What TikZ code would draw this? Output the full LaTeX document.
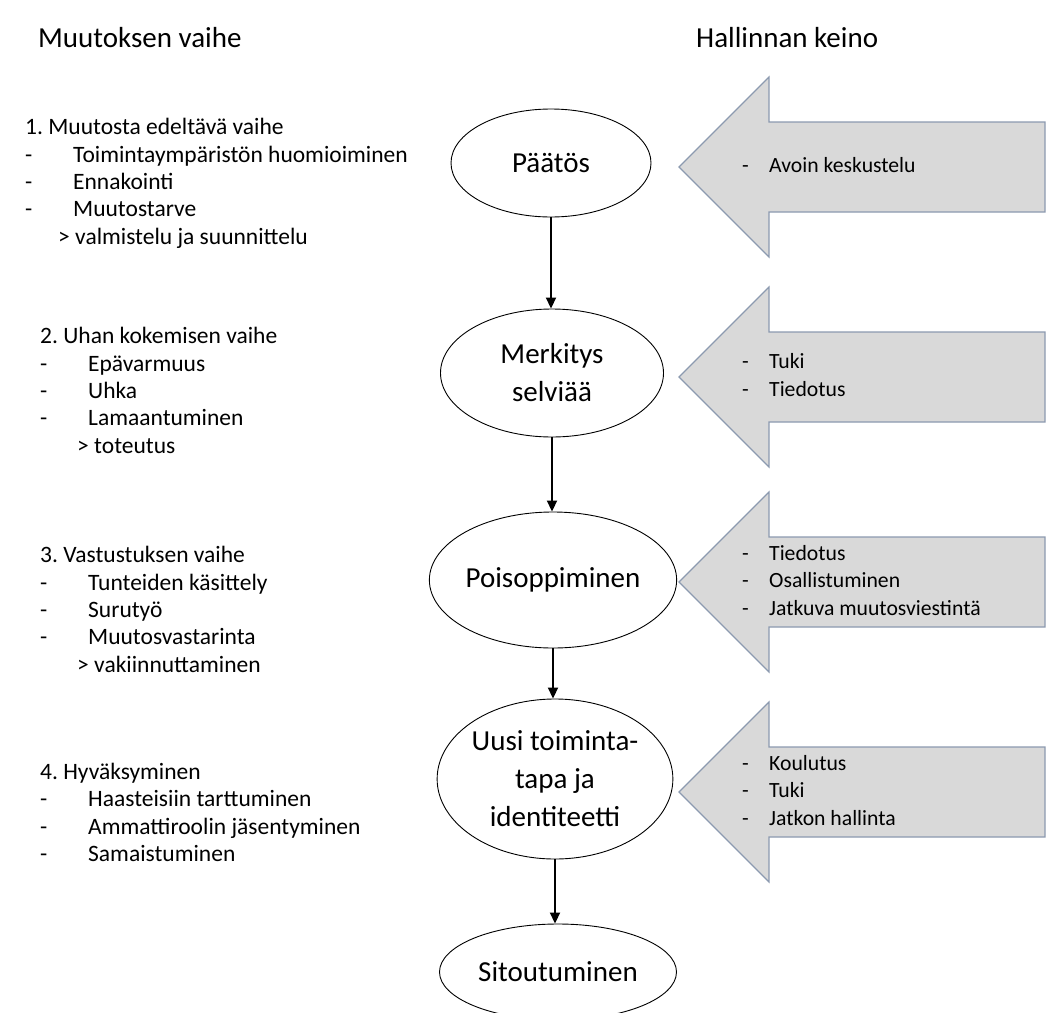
\documentclass[tikz,border=0pt]{standalone}
\usepackage{fontspec}
\setmainfont{Carlito}
\usetikzlibrary{shapes.geometric,arrows.meta}
\definecolor{arrfill}{HTML}{D9D9D9}
\definecolor{arredge}{HTML}{8C9AB0}
\newcommand\itm[1]{\strut\makebox[48pt][l]{-}#1}
\newcommand\aitm[1]{\strut\makebox[27pt][l]{-}#1}
\frenchspacing
\begin{document}
\begin{tikzpicture}[x=1pt,y=-1pt,
  header/.style={anchor=west,inner sep=0pt,font=\fontsize{29}{34}\selectfont},
  phase/.style={anchor=west,inner sep=0pt,align=left,font=\fontsize{23.5}{27.4}\selectfont},
  means/.style={anchor=west,inner sep=0pt,align=left,font=\fontsize{21.7}{27.5}\selectfont},
  stage/.style={ellipse,draw=black,line width=0.9pt,inner sep=0pt,align=center,font=\fontsize{29}{38}\selectfont},
  flow/.style={line width=1.8pt,-{Triangle[width=10pt,length=11pt]}},
  garrow/.style={fill=arrfill,draw=arredge,line width=1.2pt,line join=miter}]
\useasboundingbox[fill=white] (0,0) rectangle (1060,1012);

% headers
\node[header] (h1) at (38,38) {Muutoksen vaihe};
\node[header] (h2) at (696,38) {Hallinnan keino};

% left phase descriptions
\node[phase] (b1) at (25,184) {\strut 1. Muutosta edeltävä vaihe\\ \itm{Toimintaympäristön huomioiminen}\\ \itm{Ennakointi}\\ \itm{Muutostarve}\\ \strut\hspace{33pt}> valmistelu ja suunnittelu};
\node[phase] (b2) at (40,393) {\strut 2. Uhan kokemisen vaihe\\ \itm{Epävarmuus}\\ \itm{Uhka}\\ \itm{Lamaantuminen}\\ \strut\hspace{37pt}> toteutus};
\node[phase] (b3) at (40,612) {\strut 3. Vastustuksen vaihe\\ \itm{Tunteiden käsittely}\\ \itm{Surutyö}\\ \itm{Muutosvastarinta}\\ \strut\hspace{37pt}> vakiinnuttaminen};
\node[phase] (b4) at (40,815) {\strut 4. Hyväksyminen\\ \itm{Haasteisiin tarttuminen}\\ \itm{Ammattiroolin jäsentyminen}\\ \itm{Samaistuminen}};

% gray block arrows
\foreach \yc in {167,377,582,792}{
  \draw[garrow] (679,\yc) -- (769,\yc-90) -- (769,\yc-45) -- (1045,\yc-45)
     -- (1045,\yc+45) -- (769,\yc+45) -- (769,\yc+90) -- cycle;
}
\node[means] (m1) at (742,167) {\aitm{Avoin keskustelu}};
\node[means] (m2) at (742,377) {\aitm{Tuki}\\ \aitm{Tiedotus}};
\node[means] (m3) at (742,582) {\aitm{Tiedotus}\\ \aitm{Osallistuminen}\\ \aitm{Jatkuva muutosviestintä}};
\node[means] (m4) at (742,792) {\aitm{Koulutus}\\ \aitm{Tuki}\\ \aitm{Jatkon hallinta}};

% stages
\node[stage,minimum width=200pt,minimum height=108pt] (s1) at (551,163) {Päätös};
\node[stage,minimum width=223pt,minimum height=128pt] (s2) at (552,373) {Merkitys\\selviää};
\node[stage,minimum width=223pt,minimum height=136pt] (s3) at (553,580) {Poisoppiminen};
\node[stage,minimum width=227pt,minimum height=160pt] (s4) at (555,779) {Uusi toiminta-\\tapa ja\\identiteetti};
\node[stage,minimum width=237pt,minimum height=96pt] (s5) at (558,972) {Sitoutuminen};

\draw[flow] (s1.south) -- (s1.south |- s2.north);
\draw[flow] (s2.south) -- (s2.south |- s3.north);
\draw[flow] (s3.south) -- (s3.south |- s4.north);
\draw[flow] (s4.south) -- (s4.south |- s5.north);
\end{tikzpicture}
\end{document}
